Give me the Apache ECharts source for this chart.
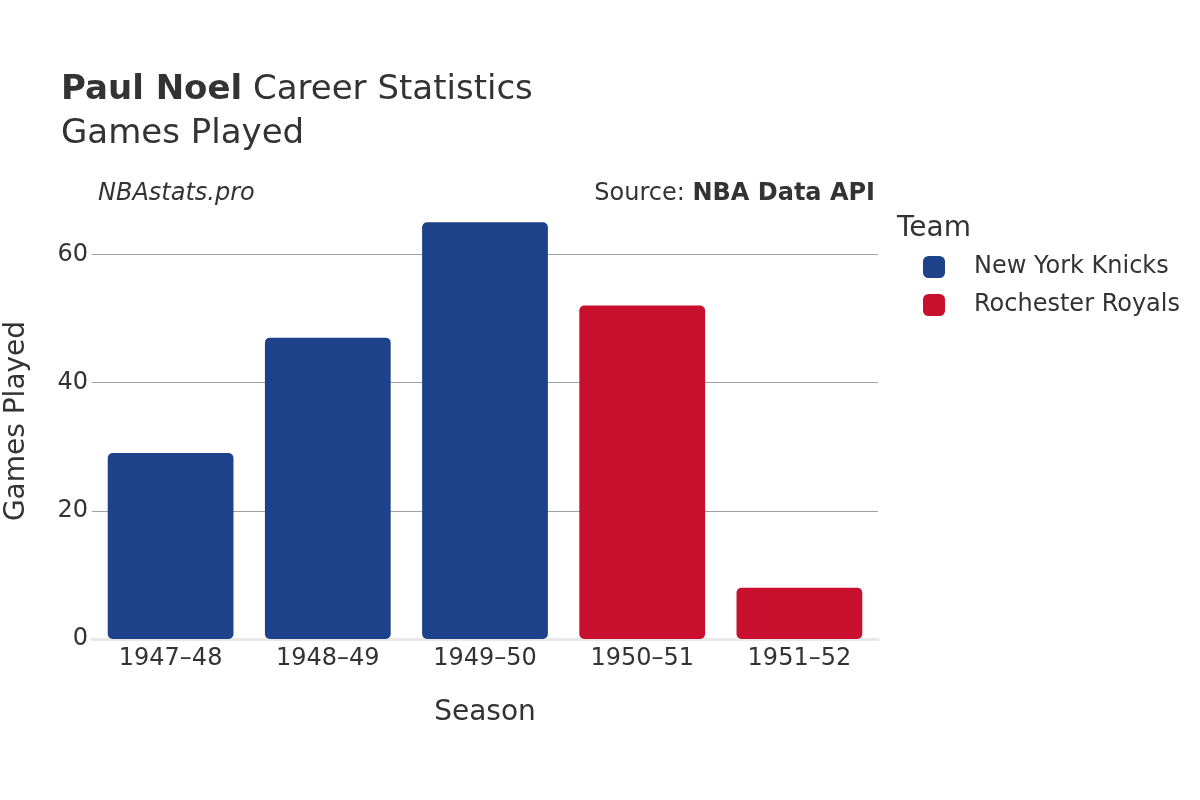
<!DOCTYPE html>
<html>
<head>
<meta charset="utf-8">
<title>Paul Noel Career Statistics</title>
<script src="https://cdn.jsdelivr.net/npm/echarts@6/dist/echarts.min.js"></script>
<style>
  html, body { margin: 0; padding: 0; background: #fff; }
  #chart { width: 1200px; height: 800px; }
</style>
</head>
<body>
<div id="chart"></div>
<script>
// data
const seasons = ['1947–48', '1948–49', '1949–50', '1950–51', '1951–52'];
const gamesPlayed = [29, 47, 65, 52, 8];
const seasonTeams = ['New York Knicks', 'New York Knicks', 'New York Knicks', 'Rochester Royals', 'Rochester Royals'];
const teams = ['New York Knicks', 'Rochester Royals'];
const teamColors = ['#1d428a', '#c8102e'];
const yTicks = [0, 20, 40, 60];

const font = 'DejaVu Sans';
const chart = echarts.init(document.getElementById('chart'));

// one series per team so the legend works, nulls keep bars centred
const series = teams.map((team, i) => ({
  name: team,
  type: 'bar',
  stack: 'games',
  barCategoryGap: '20%',
  itemStyle: { color: teamColors[i], borderRadius: 5 },
  data: gamesPlayed.map((v, k) => (seasonTeams[k] === team ? v : null))
}));

chart.setOption({
  animation: false,
  textStyle: { fontFamily: font },
  title: {
    left: 61,
    top: 68,
    padding: 0,
    text: '{b|Paul Noel} Career Statistics\nGames Played',
    textStyle: {
      fontFamily: font,
      fontSize: 34,
      fontWeight: 'normal',
      color: '#333',
      lineHeight: 44,
      rich: {
        b: { fontFamily: font, fontSize: 34, fontWeight: 'bold', color: '#333', lineHeight: 44 }
      }
    }
  },
  graphic: [
    {
      type: 'text', left: 98, top: 182,
      style: { text: 'NBAstats.pro', font: 'italic 24px "DejaVu Sans"', fill: '#333' }
    },
    {
      type: 'text', right: 1200 - 875, top: 182,
      style: {
        text: '{n|Source: }{b|NBA Data API}',
        rich: {
          n: { fontFamily: font, fontSize: 24, fill: '#333' },
          b: { fontFamily: font, fontSize: 24, fontWeight: 'bold', fill: '#333' }
        }
      }
    },
    {
      type: 'text', left: 897, top: 215,
      style: { text: 'Team', font: '28px "DejaVu Sans"', fill: '#333' }
    }
  ],
  legend: {
    orient: 'vertical',
    left: 923,
    top: 255,
    padding: 0,
    itemWidth: 22,
    itemHeight: 22,
    itemGap: 14,
    icon: 'roundRect',
    data: teams,
    textStyle: { fontFamily: font, fontSize: 24, color: '#333', padding: [0, 0, 0, 24] }
  },
  grid: { left: 92, right: 322, top: 203, bottom: 161, outerBoundsMode: 'none' },
  xAxis: {
    type: 'category',
    data: seasons,
    name: 'Season',
    nameLocation: 'middle',
    nameGap: 60,
    nameTextStyle: { fontFamily: font, fontSize: 28, color: '#333' },
    axisLine: { show: true, lineStyle: { color: '#e8e8e8', width: 3 } },
    axisTick: { show: false },
    axisLabel: { fontFamily: font, fontSize: 24, color: '#333', margin: 8 }
  },
  yAxis: {
    type: 'value',
    min: yTicks[0],
    max: 68,
    interval: 20,
    name: 'Games Played',
    nameLocation: 'middle',
    nameGap: 61,
    nameTextStyle: { fontFamily: font, fontSize: 28, color: '#333' },
    axisLine: { show: false },
    axisTick: { show: false },
    axisLabel: { fontFamily: font, fontSize: 24, color: '#333', margin: 4, showMaxLabel: false },
    splitLine: { show: true, showMinLine: false, showMaxLine: false, lineStyle: { color: '#a0a0a0', width: 1 } }
  },
  series: series
});
</script>
</body>
</html>
